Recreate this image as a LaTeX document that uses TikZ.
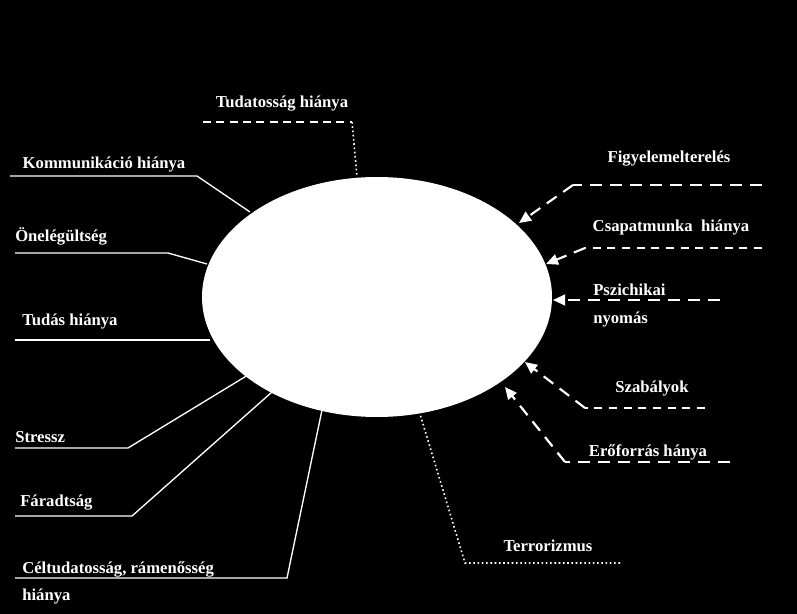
\documentclass[tikz,border=0pt]{standalone}
\usepackage{fontspec}
\setmainfont{Liberation Serif}
\usetikzlibrary{arrows.meta,shapes.geometric}
\begin{document}
\begin{tikzpicture}[x=0.75pt,y=-0.75pt,
  lbl/.style={text=white,font=\bfseries\fontsize{12.5}{14}\selectfont,inner sep=0pt},
  sl/.style={draw=white,line width=1pt},
  ds/.style={draw=white,line width=1.6pt,dash pattern=on 9pt off 6pt},
  dsa/.style={ds,-{Triangle[length=9pt,width=8pt]}},
  dt/.style={draw=white,line width=1.2pt,dotted}]
\fill[black] (0,0) rectangle (797,614);
\useasboundingbox (0,0) rectangle (797,614);
\node[fill=white,ellipse,minimum width=350*0.75pt,minimum height=240*0.75pt,inner sep=0] (E) at (377,297) {};
% left
\node[lbl] (t1) at (282,104) {Tudatosság hiánya};
\coordinate (a1) at (203,122); \coordinate (b1) at (352,122); \coordinate (c1) at (357,177);
\draw[draw=white,line width=1.4pt,dash pattern=on 6pt off 4pt] (a1) -- (b1);
\draw[dt] (b1) -- (c1);
\node[lbl] (t2) at (104,165) {Kommunikáció hiánya};
\coordinate (a2) at (10,176); \coordinate (b2) at (197,176); \coordinate (c2) at (250,212);
\draw[sl] (a2) -- (b2) -- (c2);
\node[lbl,anchor=west] (t3) at (15,236) {Önelégültség};
\coordinate (a3) at (15,253); \coordinate (b3) at (168,253); \coordinate (c3) at (207,264);
\draw[sl] (a3) -- (b3) -- (c3);
\node[lbl,anchor=west] (t4) at (22,322) {Tudás hiánya};
\coordinate (a4) at (15,340); \coordinate (c4) at (210,340);
\draw[sl] (a4) -- (c4);
\node[lbl,anchor=west] (t5) at (15,437) {Stressz};
\coordinate (a5) at (15,448); \coordinate (b5) at (128,448); \coordinate (c5) at (248,375);
\draw[sl] (a5) -- (b5) -- (c5);
\node[lbl,anchor=west] (t6) at (20,503) {Fáradtság};
\coordinate (a6) at (15,516); \coordinate (b6) at (132,516); \coordinate (c6) at (272,392);
\draw[sl] (a6) -- (b6) -- (c6);
\node[lbl,anchor=west] (t7) at (22,569) {Céltudatosság, rámenősség};
\node[lbl,anchor=west] (t7b) at (22,597) {hiánya};
\coordinate (a7) at (15,578); \coordinate (b7) at (287,578); \coordinate (c7) at (322,410);
\draw[sl] (a7) -- (b7) -- (c7);
\node[lbl] (t8) at (548,546) {Terrorizmus};
\coordinate (a8) at (620,563); \coordinate (b8) at (465,563); \coordinate (c8) at (420,414);
\draw[dt] (a8) -- (b8) -- (c8);
% right
\node[lbl] (r1) at (669,159) {Figyelemelterelés};
\coordinate (p1) at (762,185); \coordinate (q1) at (573,185); \coordinate (s1) at (519,223);
\draw[ds] (p1) -- (q1); \draw[dsa] (q1) -- (s1);
\node[lbl] (r2) at (671,228) {Csapatmunka\ \ hiánya};
\coordinate (p2) at (762,248); \coordinate (q2) at (585,248); \coordinate (s2) at (546,264);
\draw[draw=white,line width=1.6pt,dash pattern=on 6pt off 5pt] (p2) -- (q2);
\draw[dsa] (q2) -- (s2);
\node[lbl,anchor=west] (r3) at (593,290) {Pszichikai};
\node[lbl,anchor=west] (r3b) at (593,320) {nyomás};
\coordinate (p3) at (720,300); \coordinate (s3) at (553,300);
\draw[dsa] (p3) -- (s3);
\node[lbl] (r4) at (652,389) {Szabályok};
\coordinate (p4) at (705,408); \coordinate (q4) at (585,408); \coordinate (s4) at (525,362);
\draw[draw=white,line width=1.6pt,dash pattern=on 6pt off 5pt] (p4) -- (q4);
\draw[dsa] (q4) -- (s4);
\node[lbl] (r5) at (648,452) {Erőforrás hánya};
\coordinate (p5) at (730,462); \coordinate (q5) at (565,462); \coordinate (s5) at (505,387);
\draw[ds] (p5) -- (q5); \draw[dsa] (q5) -- (s5);
\end{tikzpicture}
\end{document}
